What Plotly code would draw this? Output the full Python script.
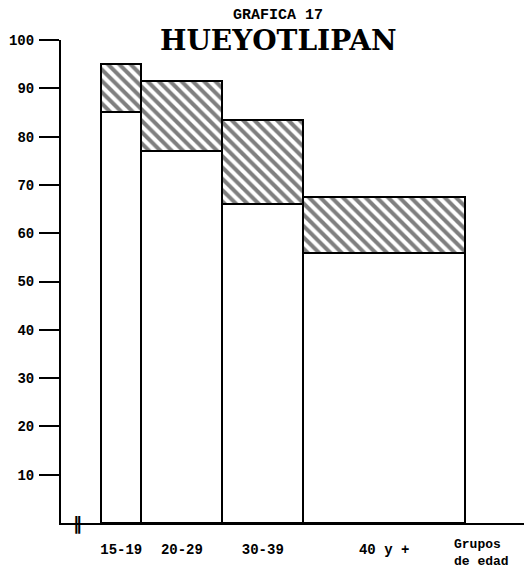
import plotly.graph_objects as go

# Data (percent)
groups = ["15-19", "20-29", "30-39", "40 y +"]
bin_left = [15, 20, 30, 40]
bin_width = [5, 10, 10, 20]
lower_values = [85, 77, 66, 56]          # white part
upper_values = [10, 14.5, 17.5, 11.5]    # hatched part (total 95, 91.5, 83.5, 67.5)
y_ticks = [10, 20, 30, 40, 50, 60, 70, 80, 90, 100]

centers = [l + w / 2 for l, w in zip(bin_left, bin_width)]

fig = go.Figure()
fig.add_trace(go.Bar(
    x=centers, y=lower_values, width=bin_width,
    marker=dict(color="white", line=dict(color="black", width=2)),
    showlegend=False, hoverinfo="skip"))
fig.add_trace(go.Bar(
    x=centers, y=upper_values, width=bin_width,
    marker=dict(color="white", line=dict(color="black", width=2),
                pattern=dict(shape="\\", fgcolor="black", bgcolor="white",
                             size=8, solidity=0.5)),
    showlegend=False, hoverinfo="skip"))

tick_font = dict(family="Liberation Mono", size=14, color="black")

fig.update_layout(
    barmode="stack",
    width=524, height=568,
    margin=dict(l=53, r=0, t=32, b=53, autoexpand=False),
    plot_bgcolor="white", paper_bgcolor="white",
    xaxis=dict(range=[10.05, 68.28], showgrid=False, zeroline=False,
               showline=True, linecolor="black", linewidth=2, automargin=False,
               tickvals=centers, ticktext=["<b>%s</b>" % g for g in groups],
               ticks="", ticklabelstandoff=12, tickfont=tick_font),
    yaxis=dict(range=[0, 100], showgrid=False, zeroline=False,
               showline=True, linecolor="black", linewidth=2, automargin=False,
               tickvals=y_ticks, ticktext=["<b>%d</b>" % v for v in y_ticks],
               ticks="outside", ticklen=20, tickwidth=2, tickcolor="black",
               ticklabelstandoff=2, tickfont=tick_font),
    annotations=[
        dict(text="<b>GRAFICA 17</b>", xref="paper", yref="paper",
             x=0.461, y=1.05, xanchor="center", yanchor="middle",
             showarrow=False, font=dict(family="Liberation Mono", size=15, color="black")),
        dict(text="<b>HUEYOTLIPAN</b>", xref="paper", yref="paper",
             x=0.461, y=0.998, xanchor="center", yanchor="middle",
             showarrow=False, font=dict(family="DejaVu Serif", size=28, color="black")),
        dict(text="<b>Grupos<br>de edad</b>", xref="paper", yref="paper",
             x=0.83, y=-0.025, xanchor="left", yanchor="top", align="left",
             showarrow=False,
             font=dict(family="Liberation Mono", size=13, color="black")),
        dict(text="<b>‖</b>", xref="x", yref="paper", x=12.1, y=0,
             xanchor="center", yanchor="middle", showarrow=False,
             font=dict(family="DejaVu Sans", size=18, color="black")),
    ],
)

fig.write_html("out.html")
